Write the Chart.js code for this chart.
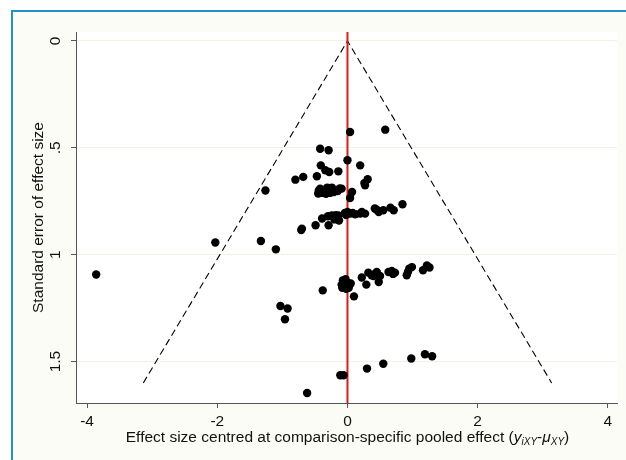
<!DOCTYPE html>
<html><head><meta charset="utf-8">
<script src="https://cdn.jsdelivr.net/npm/chart.js@4/dist/chart.umd.min.js"></script>
<style>
html,body{margin:0;padding:0;background:#ffffff;}
#frame{position:absolute;left:11px;top:10px;width:640px;height:480px;border-left:2px solid #2290cf;border-top:2px solid #2290cf;background:#fcfcf7;}
#box{position:absolute;left:0;top:0;width:626px;height:460px;}
</style>
</head><body>
<div id="frame"></div>
<div id="box"><canvas id="c" width="626" height="460"></canvas></div>
<script>
// Study effect sizes centred at comparison-specific pooled effect
const effectSize = [
  0.04, 0.58,
  -0.42, -0.29,
  0.00, 0.195, -0.41, -0.34, -0.28, -0.14,
  -0.47, -0.68, -0.80, 0.31, 0.27, 0.26,
  -1.26,
  -0.45, -0.42, -0.36, -0.31, -0.24, -0.21, -0.15, -0.09, -0.39, -0.27, -0.44, -0.33, -0.12,
  0.07, 0.04,
  0.845,
  -0.24, -0.14, -0.04, 0.00, 0.04, 0.12, 0.195, 0.27, 0.22, 0.42, 0.48, 0.55, 0.66, 0.71, 0.45, -0.02, -0.30, -0.18, 0.08,
  -0.39, -0.49, -0.29, -0.70, -0.71, -0.13, -0.20,
  -2.03, -1.33, -1.10,
  -3.86,
  -0.07, -0.03, 0.00, 0.03, -0.05, -0.09, 0.02, -0.02, 0.05, -0.08,
  -0.38, 0.10, 0.22, 0.29, 0.32, 0.37, 0.45, 0.48, 0.50, 0.40, 0.42, 0.63, 0.68, 0.73, 0.70, 0.91, 0.95, 0.99, 0.93, 1.16, 1.22, 1.26,
  -1.03, -0.92, -0.96,
  0.98, 1.19, 1.30, 0.55, 0.30, -0.11, -0.06, -0.62
];
// Standard errors of the effect sizes
const stdError = [
  0.426, 0.415,
  0.504, 0.511,
  0.558, 0.582, 0.582, 0.605, 0.613, 0.610,
  0.633, 0.636, 0.649, 0.647, 0.675, 0.665,
  0.700,
  0.714, 0.691, 0.699, 0.686, 0.686, 0.707, 0.702, 0.691, 0.711, 0.711, 0.700, 0.715, 0.690,
  0.707, 0.735,
  0.764,
  0.816, 0.816, 0.805, 0.800, 0.808, 0.811, 0.808, 0.808, 0.800, 0.784, 0.800, 0.792, 0.780, 0.792, 0.790, 0.815, 0.820, 0.815, 0.805,
  0.831, 0.862, 0.862, 0.878, 0.885, 0.840, 0.835,
  0.943, 0.936, 0.975,
  1.093,
  1.120, 1.115, 1.130, 1.140, 1.150, 1.140, 1.155, 1.160, 1.135, 1.155,
  1.167, 1.195, 1.107, 1.140, 1.084, 1.096, 1.081, 1.128, 1.100, 1.100, 1.090, 1.081, 1.076, 1.084, 1.090, 1.096, 1.065, 1.058, 1.080, 1.073, 1.050, 1.060,
  1.240, 1.252, 1.302,
  1.486, 1.466, 1.475, 1.510, 1.533, 1.564, 1.564, 1.647
];
// Pseudo 95% confidence funnel (dashed) and line of no difference (red)
const funnelX = [-3.136, 0, 3.136];
const funnelY = [1.6, 0, 1.6];
const zeroLineX = [0, 0];
const zeroLineY = [-0.042, 1.694];
// Axes
const xTicks = [-4, -2, 0, 2, 4];
const xTickLabels = ['-4', '-2', '0', '2', '4'];
const yTicks = [0, 0.5, 1, 1.5];
const yTickLabels = ['0', '.5', '1', '1.5'];
const xRange = [-4.17, 4.14];
const yRange = [-0.042, 1.694];
const yTitle = 'Standard error of effect size';
const xTitleMain = 'Effect size centred at comparison-specific pooled effect (';

const FONT = "'Liberation Sans', Arial, sans-serif";
const FS = 15.5;

const zip = (xs, ys) => xs.map((x, i) => ({x: x, y: ys[i]}));

const textPlugin = {
  id: 'stataText',
  beforeDraw(chart) {
    const ctx = chart.ctx, a = chart.chartArea;
    ctx.save();
    ctx.fillStyle = '#ffffff';
    ctx.fillRect(a.left, a.top, a.right - a.left, a.bottom - a.top);
    ctx.restore();
  },
  afterDraw(chart) {
    const ctx = chart.ctx, a = chart.chartArea;
    const ys = chart.scales.y;
    ctx.save();
    ctx.fillStyle = '#111111';
    // y tick labels, rotated
    ctx.font = FS + 'px ' + FONT;
    ctx.textAlign = 'center';
    ctx.textBaseline = 'middle';
    yTicks.forEach((v, i) => {
      const py = ys.getPixelForValue(v);
      ctx.save();
      ctx.translate(56, py);
      ctx.rotate(-Math.PI / 2);
      ctx.fillText(yTickLabels[i], 0, 0);
      ctx.restore();
    });
    // y title
    ctx.save();
    ctx.translate(39, (a.top + a.bottom) / 2);
    ctx.rotate(-Math.PI / 2);
    ctx.fillText(yTitle, 0, 0);
    ctx.restore();
    // x title with italic subscripts
    const parts = [
      {t: xTitleMain, f: FS + 'px ' + FONT, dy: 0},
      {t: 'y', f: 'italic ' + FS + 'px ' + FONT, dy: 0},
      {t: 'iXY', f: 'italic 10px ' + FONT, dy: 3},
      {t: '-', f: FS + 'px ' + FONT, dy: 0},
      {t: '\u03bc', f: 'italic ' + FS + 'px ' + FONT, dy: 0},
      {t: 'XY', f: 'italic 10px ' + FONT, dy: 3},
      {t: ')', f: FS + 'px ' + FONT, dy: 0}
    ];
    let total = 0;
    parts.forEach(p => { ctx.font = p.f; p.w = ctx.measureText(p.t).width; total += p.w; });
    let x = 347.5 - total / 2;
    const base = 442;
    ctx.textAlign = 'left';
    ctx.textBaseline = 'alphabetic';
    parts.forEach(p => { ctx.font = p.f; ctx.fillText(p.t, x, base + p.dy); x += p.w; });
    ctx.restore();
  }
};

new Chart(document.getElementById('c'), {
  type: 'scatter',
  data: {
    datasets: [
      {
        label: 'Studies',
        data: zip(effectSize, stdError),
        backgroundColor: '#000000',
        borderColor: '#000000',
        pointRadius: 4.2,
        pointHoverRadius: 4.2,
        borderWidth: 0,
        order: 0
      },
      {
        label: 'Zero',
        data: zip(zeroLineX, zeroLineY),
        showLine: true,
        borderColor: '#dd1b1b',
        borderWidth: 2,
        pointRadius: 0,
        order: 1
      },
      {
        label: 'Funnel',
        data: zip(funnelX, funnelY),
        showLine: true,
        borderColor: '#000000',
        borderWidth: 1.1,
        borderDash: [7, 4],
        pointRadius: 0,
        order: 2
      }
    ]
  },
  options: {
    responsive: false,
    animation: false,
    devicePixelRatio: 1,
    layout: {padding: {left: 0, right: 9, top: 32, bottom: 0}},
    plugins: {legend: {display: false}, tooltip: {enabled: false}},
    scales: {
      x: {
        type: 'linear',
        min: xRange[0], max: xRange[1],
        afterBuildTicks: s => { s.ticks = xTicks.map(v => ({value: v})); },
        afterFit: s => { s.height = 57; },
        ticks: {
          color: '#111111',
          font: {family: FONT, size: FS},
          padding: 4,
          maxRotation: 0,
          callback: (v) => { const i = xTicks.indexOf(v); return i >= 0 ? xTickLabels[i] : ''; }
        },
        grid: {drawOnChartArea: false, drawTicks: true, tickLength: 5, tickColor: '#555555'},
        border: {color: '#555555', width: 1}
      },
      y: {
        type: 'linear',
        reverse: true,
        min: yRange[0], max: yRange[1],
        afterBuildTicks: s => { s.ticks = yTicks.map(v => ({value: v})); },
        afterFit: s => { s.width = 76; },
        ticks: {display: false},
        grid: {drawOnChartArea: true, color: '#f4f0e2', drawTicks: true, tickLength: 5, tickColor: '#555555'},
        border: {color: '#555555', width: 1}
      }
    }
  },
  plugins: [textPlugin]
});
</script>
</body></html>
